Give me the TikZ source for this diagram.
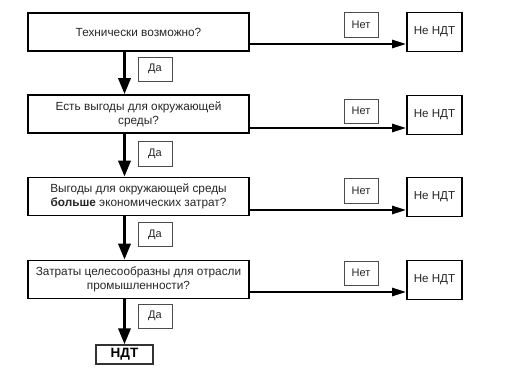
\documentclass[tikz,border=0pt]{standalone}
\usepackage{fontspec}
\setmainfont{Liberation Sans}
\usetikzlibrary{arrows.meta}
\begin{document}
\begin{tikzpicture}[x=1pt,y=-1pt,
  mainbox/.style={draw=black,line width=1.6pt,minimum width=221pt,minimum height=38pt,inner sep=0pt,align=center,font=\fontsize{11.8}{13.8}\selectfont,text=black!85},
  endbox/.style={draw=black,line width=1.6pt,minimum width=55pt,minimum height=39pt,inner sep=0pt,align=center,font=\fontsize{11.6}{13}\selectfont,text=black!85},
  tagbox/.style={draw=black!70,line width=0.9pt,minimum width=34pt,minimum height=24pt,inner sep=0pt,font=\fontsize{11}{12}\selectfont,text=black!85},
  finbox/.style={draw=black!80,line width=1.3pt,minimum width=57pt,minimum height=19pt,inner sep=0pt,font=\bfseries\fontsize{13.5}{14}\selectfont},
  downarrow/.style={line width=3.2pt,-{Triangle[length=16pt,width=12pt]}},
  rightarrow/.style={line width=2.4pt,-{Triangle[length=14pt,width=8pt]}}
]
\useasboundingbox (0,0) rectangle (506,382);
% main boxes
\node[mainbox] (b1) at (138.5,32) {Технически возможно?};
\node[mainbox] (b2) at (138.5,114) {Есть выгоды для окружающей\\среды?};
\node[mainbox] (b3) at (138.5,196.5) {Выгоды для окружающей среды\\\textbf{больше} экономических затрат?};
\node[mainbox] (b4) at (138.5,279.5) {Затраты целесообразны для отрасли\\промышленности?};
\node[finbox] (ndt) at (124.5,354.5) {НДТ};
% end boxes
\node[endbox] (n1) at (434.5,32) {Не НДТ};
\node[endbox] (n2) at (434.5,115) {Не НДТ};
\node[endbox] (n3) at (434.5,197) {Не НДТ};
\node[endbox] (n4) at (434.5,280) {Не НДТ};
% tags
\node[tagbox,minimum height=25pt] (t1) at (361,24.5) {Нет};
\node[tagbox] (t2) at (361,111) {Нет};
\node[tagbox,minimum height=25pt] (t3) at (361,190.5) {Нет};
\node[tagbox] (t4) at (361,273) {Нет};
\node[tagbox] (d1) at (155,69) {Да};
\node[tagbox,minimum height=25pt] (d2) at (155,153.5) {Да};
\node[tagbox] (d3) at (155,234.5) {Да};
\node[tagbox] (d4) at (155,316) {Да};
% vertical arrows
\draw[downarrow] ([xshift=-14pt]b1.south) -- ([xshift=-14pt]b2.north);
\draw[downarrow] ([xshift=-14pt]b2.south) -- ([xshift=-14pt]b3.north);
\draw[downarrow] ([xshift=-14pt]b3.south) -- ([xshift=-14pt]b4.north);
\draw[downarrow] ([xshift=-14pt]b4.south) -- (ndt.north);
% horizontal arrows
\draw[rightarrow] ([yshift=-12pt]b1.east) -- ([yshift=-12pt]n1.west);
\draw[rightarrow] ([yshift=-14pt]b2.east) -- ([yshift=-13pt]n2.west);
\draw[rightarrow] ([yshift=-13.5pt]b3.east) -- ([yshift=-13pt]n3.west);
\draw[rightarrow] ([yshift=-12.5pt]b4.east) -- ([yshift=-12pt]n4.west);
\end{tikzpicture}
\end{document}
